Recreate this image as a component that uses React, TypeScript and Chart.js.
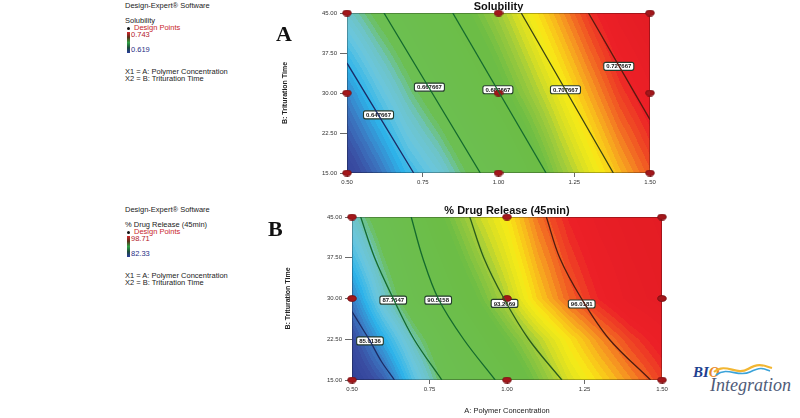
import React, { useEffect, useRef } from "react";
import { Chart, registerables } from "chart.js";

Chart.register(...registerables);

const FONT = "'Liberation Sans', Arial, Helvetica, sans-serif";
const SERIF = "'Liberation Serif', 'Times New Roman', serif";
Chart.defaults.font.family = FONT;

// ---- data ----
// Factor A (Polymer Concentration) columns of the response grids
const concentrationGrid = [0.5, 0.6, 0.7, 0.8, 0.9, 1.0, 1.1, 1.2, 1.3, 1.4, 1.5];

// Solubility surface (read from the colour field) at three trituration times
const solubilityTimes = [15, 30, 45];
const solubilityAt15 = [0.6252, 0.6351, 0.6463, 0.6537, 0.6636, 0.6723, 0.6835, 0.6959, 0.7058, 0.7157, 0.7244];
const solubilityAt30 = [0.6388, 0.65, 0.6599, 0.6686, 0.6773, 0.6872, 0.6971, 0.707, 0.717, 0.7269, 0.7343];
const solubilityAt45 = [0.6562, 0.6649, 0.6723, 0.681, 0.6897, 0.6984, 0.7083, 0.7182, 0.7281, 0.7368, 0.743];
const solubilityRange = [0.619, 0.743];

// % Drug Release (45min) surface (read from the colour field) at five trituration times
const releaseTimes = [15, 22.5, 30, 37.5, 45];
const releaseAt15 = [82.82, 84.13, 86.43, 88.39, 89.54, 90.68, 92.16, 93.63, 94.62, 95.6, 96.58];
const releaseAt22 = [83.64, 85.61, 87.57, 89.21, 90.52, 91.83, 93.14, 94.45, 95.6, 96.58, 97.4];
const releaseAt30 = [84.79, 87.24, 89.05, 90.36, 91.67, 93.14, 94.78, 96.09, 97.07, 97.89, 98.38];
const releaseAt37 = [86.1, 88.06, 89.7, 91.09, 92.49, 93.8, 95.35, 96.58, 97.48, 98.14, 98.55];
const releaseAt45 = [87.24, 88.88, 90.36, 91.83, 93.22, 94.37, 95.93, 97.07, 97.89, 98.38, 98.71];
const releaseRange = [82.33, 98.71];

// Tick labels
const concentrationTicks = [0.5, 0.75, 1.0, 1.25, 1.5];
const timeTicks = [15, 22.5, 30, 37.5, 45];

// Design points
const designConcentration = [0.5, 0.5, 0.5, 1.0, 1.0, 1.0, 1.5, 1.5, 1.5];
const designTime = [15, 30, 45, 15, 30, 45, 15, 30, 45];

// Solubility contours
const solubilityLevels = ["0.647667", "0.667667", "0.687667", "0.707667", "0.727667"];
const solubilityContourX = [
  [0.5, 0.72],
  [0.622, 0.94],
  [0.849, 1.157],
  [1.075, 1.379],
  [1.297, 1.5],
];
const solubilityContourY = [
  [35.6, 15],
  [45, 15],
  [45, 15],
  [45, 15],
  [45, 25],
];
const solubilityLabelX = [0.604, 0.772, 0.998, 1.221, 1.397];
const solubilityLabelY = [25.9, 31.1, 30.6, 30.6, 35.0];

// Drug release contours
const releaseLevels = ["85.0136", "87.7647", "90.5158", "93.2669", "96.0181"];
const releaseContourX = [
  [0.5, 0.53, 0.558, 0.595, 0.637],
  [0.528, 0.573, 0.633, 0.7, 0.79],
  [0.691, 0.728, 0.778, 0.86, 0.962],
  [0.88, 0.925, 0.99, 1.07, 1.177],
  [1.127, 1.17, 1.24, 1.33, 1.463],
];
const releaseContourY = [
  [27.6, 24.8, 22.2, 18.4, 15],
  [45, 37.5, 30, 22.5, 15],
  [45, 37.5, 30, 22.5, 15],
  [45, 37.5, 30, 22.5, 15],
  [45, 37.5, 30, 22.5, 15],
];
const releaseLabelX = [0.558, 0.633, 0.778, 0.992, 1.241];
const releaseLabelY = [22.2, 29.7, 29.7, 29.1, 29.0];

// ---- styling ----
const colourStops: [number, string][] = [
  [0.0, "#2b3990"],
  [0.09, "#3a4ea3"],
  [0.15, "#3b7cc4"],
  [0.21, "#2db4ea"],
  [0.27, "#6bc7df"],
  [0.31, "#6dc4c6"],
  [0.36, "#6cbf52"],
  [0.58, "#6cbd45"],
  [0.64, "#9fcb3c"],
  [0.69, "#dce022"],
  [0.73, "#f8ec16"],
  [0.77, "#f9c41b"],
  [0.81, "#f58d22"],
  [0.86, "#ef4a24"],
  [0.9, "#ec2027"],
  [1.0, "#e41c24"],
];
const solubilityLineColours = ["#1c2c66", "#146a2d", "#146a2d", "#3b4414", "#5a1a10"];
const releaseLineColours = ["#1c2c66", "#146a2d", "#146a2d", "#2a5c1c", "#4e1c10"];

function hexRgb(h: string): number[] {
  return [parseInt(h.slice(1, 3), 16), parseInt(h.slice(3, 5), 16), parseInt(h.slice(5, 7), 16)];
}

const LUT: number[][] = (() => {
  const out: number[][] = [];
  const stops = colourStops.map(([t, c]) => [t, hexRgb(c)] as [number, number[]]);
  for (let i = 0; i <= 255; i++) {
    const t = i / 255;
    let k = 0;
    while (k < stops.length - 2 && t > stops[k + 1][0]) k++;
    const [t0, c0] = stops[k];
    const [t1, c1] = stops[k + 1];
    const f = Math.max(0, Math.min(1, (t - t0) / (t1 - t0)));
    out.push([0, 1, 2].map((j) => Math.round(c0[j] + (c1[j] - c0[j]) * f)));
  }
  return out;
})();

function sampleSurface(rows: number[][], times: number[], cx: number, ty: number): number {
  const xs = concentrationGrid;
  let i = 0;
  while (i < xs.length - 2 && cx > xs[i + 1]) i++;
  let j = 0;
  while (j < times.length - 2 && ty > times[j + 1]) j++;
  const fx = Math.max(0, Math.min(1, (cx - xs[i]) / (xs[i + 1] - xs[i])));
  const fy = Math.max(0, Math.min(1, (ty - times[j]) / (times[j + 1] - times[j])));
  const a = rows[j][i] + (rows[j][i + 1] - rows[j][i]) * fx;
  const b = rows[j + 1][i] + (rows[j + 1][i + 1] - rows[j + 1][i]) * fx;
  return a + (b - a) * fy;
}

type PanelSpec = {
  left: number;
  top: number;
  width: number;
  height: number;
  padLeft: number;
  padTop: number;
  padRight: number;
  yAxisWidth: number;
  xAxisHeight: number;
  title: string;
  titleY: number;
  xTitle: string;
  rows: number[][];
  times: number[];
  range: number[];
  contourX: number[][];
  contourY: number[][];
  lineColours: string[];
  levels: string[];
  labelX: number[];
  labelY: number[];
};

const solubilitySpec: PanelSpec = {
  left: 270,
  top: 0,
  width: 420,
  height: 200,
  padLeft: 7,
  padTop: 13,
  padRight: 40,
  yAxisWidth: 70,
  xAxisHeight: 27,
  title: "Solubility",
  titleY: 7,
  xTitle: "",
  rows: [solubilityAt15, solubilityAt30, solubilityAt45],
  times: solubilityTimes,
  range: solubilityRange,
  contourX: solubilityContourX,
  contourY: solubilityContourY,
  lineColours: solubilityLineColours,
  levels: solubilityLevels,
  labelX: solubilityLabelX,
  labelY: solubilityLabelY,
};

const releaseSpec: PanelSpec = {
  left: 270,
  top: 200,
  width: 420,
  height: 218,
  padLeft: 10,
  padTop: 17,
  padRight: 28,
  yAxisWidth: 72,
  xAxisHeight: 38,
  title: "% Drug Release (45min)",
  titleY: 11,
  xTitle: "A: Polymer Concentration",
  rows: [releaseAt15, releaseAt22, releaseAt30, releaseAt37, releaseAt45],
  times: releaseTimes,
  range: releaseRange,
  contourX: releaseContourX,
  contourY: releaseContourY,
  lineColours: releaseLineColours,
  levels: releaseLevels,
  labelX: releaseLabelX,
  labelY: releaseLabelY,
};

function makeDot(): HTMLCanvasElement {
  const c = document.createElement("canvas");
  c.width = 10;
  c.height = 7;
  const g = c.getContext("2d")!;
  g.fillStyle = "#a3171b";
  g.strokeStyle = "#6d0e10";
  g.lineWidth = 0.8;
  g.beginPath();
  g.ellipse(5, 3.5, 4.3, 2.9, 0, 0, Math.PI * 2);
  g.fill();
  g.stroke();
  return c;
}

function buildConfig(spec: PanelSpec, dot: HTMLCanvasElement): any {
  const heat = {
    id: "heatField",
    beforeDatasetsDraw(chart: any) {
      const { ctx, chartArea: a, scales } = chart;
      const sx = scales.x;
      const sy = scales.y;
      const W = a.right - a.left;
      const H = a.bottom - a.top;
      const w = Math.max(1, Math.round(W));
      const h = Math.max(1, Math.round(H));
      const off = document.createElement("canvas");
      off.width = w;
      off.height = h;
      const octx = off.getContext("2d")!;
      const img = octx.createImageData(w, h);
      const colVals: number[] = [];
      for (let i = 0; i < w; i++) colVals.push(sx.getValueForPixel(a.left + ((i + 0.5) * W) / w));
      for (let j = 0; j < h; j++) {
        const tv = sy.getValueForPixel(a.top + ((j + 0.5) * H) / h);
        for (let i = 0; i < w; i++) {
          const v = sampleSurface(spec.rows, spec.times, colVals[i], tv);
          let t = (v - spec.range[0]) / (spec.range[1] - spec.range[0]);
          t = Math.max(0, Math.min(1, Math.round(t * 72) / 72));
          const c = LUT[Math.round(t * 255)];
          const k = (j * w + i) * 4;
          img.data[k] = c[0];
          img.data[k + 1] = c[1];
          img.data[k + 2] = c[2];
          img.data[k + 3] = 255;
        }
      }
      octx.putImageData(img, 0, 0);
      ctx.save();
      ctx.drawImage(off, a.left, a.top, W, H);
      ctx.strokeStyle = "rgba(0,0,0,0.28)";
      ctx.lineWidth = 1;
      ctx.strokeRect(a.left + 0.5, a.top + 0.5, W - 1, H - 1);
      ctx.restore();
    },
    beforeDatasetDraw(chart: any, args: any) {
      if (args.index !== chart.data.datasets.length - 1) return;
      const { ctx, scales } = chart;
      ctx.save();
      ctx.font = `bold 6px ${FONT}`;
      ctx.textAlign = "center";
      ctx.textBaseline = "middle";
      spec.levels.forEach((txt, k) => {
        const px = scales.x.getPixelForValue(spec.labelX[k]);
        const py = scales.y.getPixelForValue(spec.labelY[k]);
        const tw = ctx.measureText(txt).width + 5;
        const th = 8;
        ctx.beginPath();
        ctx.roundRect(px - tw / 2, py - th / 2, tw, th, 2);
        ctx.fillStyle = "#ffffff";
        ctx.fill();
        ctx.lineWidth = 1.1;
        ctx.strokeStyle = "#243a2c";
        ctx.stroke();
        ctx.fillStyle = "#151515";
        ctx.fillText(txt, px, py + 0.5);
      });
      ctx.restore();
    },
    afterDraw(chart: any) {
      const { ctx, chartArea: a } = chart;
      ctx.save();
      ctx.font = `bold 11px ${FONT}`;
      ctx.fillStyle = "#111";
      ctx.textAlign = "center";
      ctx.textBaseline = "middle";
      ctx.fillText(spec.title, (a.left + a.right) / 2, spec.titleY);
      ctx.restore();
    },
  };

  const lineSets = spec.contourX.map((xsArr, k) => ({
    data: xsArr.map((x, n) => ({ x, y: spec.contourY[k][n] })),
    showLine: true,
    borderColor: spec.lineColours[k],
    borderWidth: 1.3,
    pointRadius: 0,
    tension: 0.35,
    fill: false,
  }));

  const pointSet = {
    data: designConcentration.map((x, n) => ({ x, y: designTime[n] })),
    showLine: false,
    pointStyle: dot,
    pointRadius: 4,
    clip: false,
  };

  return {
    type: "scatter",
    data: { datasets: [...lineSets, pointSet] },
    options: {
      animation: false,
      responsive: false,
      events: [],
      layout: { padding: { left: spec.padLeft, top: spec.padTop, right: spec.padRight, bottom: 0 } },
      plugins: { legend: { display: false }, tooltip: { enabled: false }, title: { display: false } },
      scales: {
        x: {
          type: "linear",
          min: 0.5,
          max: 1.5,
          afterBuildTicks: (s: any) => {
            s.ticks = concentrationTicks.map((value) => ({ value }));
          },
          afterFit: (s: any) => {
            s.height = spec.xAxisHeight;
          },
          ticks: {
            autoSkip: false,
            maxRotation: 0,
            minRotation: 0,
            padding: 2,
            color: "#333",
            font: { family: FONT, size: 6 },
            callback: (v: any) => Number(v).toFixed(2),
          },
          grid: { drawOnChartArea: false, drawTicks: true, tickLength: 4, color: "#444", lineWidth: 0.8 },
          border: { display: false },
          title: {
            display: !!spec.xTitle,
            text: spec.xTitle,
            color: "#222",
            font: { family: FONT, size: 7.5 },
            padding: { top: 0, bottom: 2.5 },
          },
        },
        y: {
          type: "linear",
          min: 15,
          max: 45,
          afterBuildTicks: (s: any) => {
            s.ticks = timeTicks.map((value) => ({ value }));
          },
          afterFit: (s: any) => {
            s.width = spec.yAxisWidth;
          },
          ticks: {
            autoSkip: false,
            padding: 3,
            color: "#333",
            font: { family: FONT, size: 6 },
            callback: (v: any) => Number(v).toFixed(2),
          },
          grid: { drawOnChartArea: false, drawTicks: true, tickLength: 7, color: "#444", lineWidth: 0.8 },
          border: { display: false },
          title: {
            display: true,
            text: "B: Trituration Time",
            color: "#222",
            font: { family: FONT, size: 7, weight: "bold" },
            padding: { top: 4, bottom: 0 },
          },
        },
      },
    },
    plugins: [heat],
  };
}

function ContourPanel({ spec }: { spec: PanelSpec }) {
  const ref = useRef<HTMLCanvasElement>(null);
  useEffect(() => {
    const canvas = ref.current;
    if (!canvas) return;
    const chart = new Chart(canvas, buildConfig(spec, makeDot()));
    return () => chart.destroy();
  }, [spec]);
  return (
    <canvas
      ref={ref}
      width={spec.width}
      height={spec.height}
      style={{ position: "absolute", left: spec.left, top: spec.top, width: spec.width, height: spec.height }}
    />
  );
}

function Txt({ x, y, size = 7.5, color = "#222", children, style }: any) {
  return (
    <div
      style={{
        position: "absolute",
        left: x,
        top: y - size / 2,
        fontSize: size,
        lineHeight: 1,
        fontFamily: FONT,
        color,
        whiteSpace: "nowrap",
        ...style,
      }}
    >
      {children}
    </div>
  );
}

function LegendBlock({ y0, response, hi, lo }: { y0: number; response: string; hi: string; lo: string }) {
  // y0 = vertical centre of "Design-Expert® Software" line
  return (
    <>
      <Txt x={125} y={y0}>Design-Expert® Software</Txt>
      <Txt x={125} y={y0 + 14.5}>{response}</Txt>
      <div
        style={{ position: "absolute", left: 127, top: y0 + 20.5, width: 3, height: 3, borderRadius: 2, background: "#111" }}
      />
      <Txt x={134} y={y0 + 21.5} color="#c8262b">Design Points</Txt>
      <div
        style={{
          position: "absolute",
          left: 126.5,
          top: y0 + 26,
          width: 3.5,
          height: 20.5,
          background: "linear-gradient(#d3262c, #5a2f18 25%, #2fa043 50%, #1d4a3c 75%, #2a3c9c)",
        }}
      />
      <Txt x={131} y={y0 + 28.5} color="#b3202a">{hi}</Txt>
      <Txt x={131} y={y0 + 44} color="#1f2f86">{lo}</Txt>
      <Txt x={125} y={y0 + 65.5}>X1 = A: Polymer Concentration</Txt>
      <Txt x={125} y={y0 + 72.5}>X2 = B: Trituration Time</Txt>
    </>
  );
}

export default function App() {
  return (
    <div style={{ position: "absolute", left: 0, top: 0, width: 800, height: 418, background: "#fff", overflow: "hidden" }}>
      <LegendBlock y0={6} response="Solubility" hi="0.743" lo="0.619" />
      <LegendBlock y0={210} response="% Drug Release (45min)" hi="98.71" lo="82.33" />
      <ContourPanel spec={solubilitySpec} />
      <ContourPanel spec={releaseSpec} />
      <div
        style={{ position: "absolute", left: 276, top: 23, fontFamily: SERIF, fontWeight: "bold", fontSize: 22, lineHeight: 1, color: "#111" }}
      >
        A
      </div>
      <div
        style={{ position: "absolute", left: 268, top: 218, fontFamily: SERIF, fontWeight: "bold", fontSize: 22, lineHeight: 1, color: "#111" }}
      >
        B
      </div>
      <div
        style={{
          position: "absolute",
          left: 693,
          top: 365,
          fontFamily: SERIF,
          fontWeight: "bold",
          fontStyle: "italic",
          fontSize: 15,
          lineHeight: 1,
          color: "#1e3f8f",
        }}
      >
        BI<span style={{ color: "#e8892a" }}>O</span>
      </div>
      <svg style={{ position: "absolute", left: 712, top: 360 }} width="62" height="20" viewBox="0 0 62 20">
        <path d="M2 12 C 14 2, 24 16, 36 9 S 52 6, 60 8" fill="none" stroke="#f2b632" strokeWidth="2.2" />
        <path d="M4 15 C 16 6, 26 18, 38 12 S 52 9, 58 11" fill="none" stroke="#3ba3d9" strokeWidth="1.6" />
      </svg>
      <div
        style={{
          position: "absolute",
          left: 710,
          top: 376,
          fontFamily: SERIF,
          fontStyle: "italic",
          fontSize: 18,
          lineHeight: 1,
          color: "#4f5b78",
        }}
      >
        Integration
      </div>
    </div>
  );
}
